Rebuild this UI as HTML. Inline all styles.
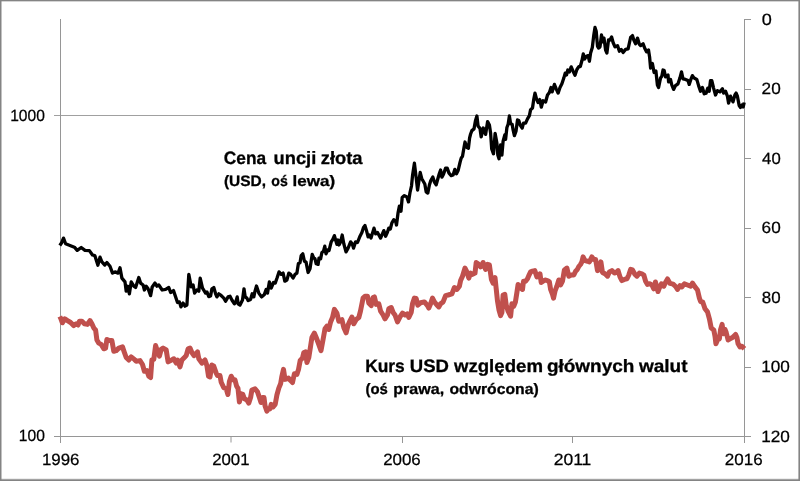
<!DOCTYPE html>
<html><head><meta charset="utf-8"><title>Chart</title>
<style>
html,body{margin:0;padding:0;background:#fff;}
body{width:800px;height:481px;overflow:hidden;position:relative;font-family:"Liberation Sans",sans-serif;}
</style></head><body>
<svg width="800" height="481" viewBox="0 0 800 481" style="position:absolute;left:0;top:0;display:block">
<rect x="0" y="0" width="800" height="481" fill="#ffffff"/>
<g shape-rendering="crispEdges" stroke="#969696" stroke-width="1" fill="none">
<path d="M54,115.5 H744" stroke="#a0a0a0"/>
<path d="M60.5,19 V442.5"/>
<path d="M54,436.5 H750.5"/>
<path d="M744.5,19 V442.5"/>
<path d="M744,19.5 H750.5"/>
<path d="M744,89.5 H750.5"/>
<path d="M744,158.5 H750.5"/>
<path d="M744,228.5 H750.5"/>
<path d="M744,297.5 H750.5"/>
<path d="M744,367.5 H750.5"/>
<path d="M744,436.5 H750.5"/>
<path d="M402.5,436 V442.5"/>
<path d="M572.5,436 V442.5"/>
</g>
<path d="M231,437 V442.5" stroke="#969696" stroke-width="1" fill="none"/>
<path d="M59.8,316.5 L60.8,318.5 L62.3,322.8 L64.8,318.8 L67.5,320.6 L70.6,322.5 L73.8,325.6 L76.2,323.8 L78.1,325.0 L79.4,321.2 L81.9,321.2 L84.4,323.8 L87.5,324.4 L90.0,320.6 L91.9,323.8 L93.8,328.1 L95.6,330.0 L96.9,340.0 L98.8,343.1 L101.2,344.4 L103.8,348.8 L105.6,348.1 L106.9,339.4 L109.4,340.6 L111.9,340.6 L113.8,351.2 L116.2,350.6 L118.8,348.1 L122.5,346.9 L124.4,352.5 L126.2,357.5 L128.8,360.0 L131.2,356.9 L134.4,359.4 L136.2,361.2 L140.0,360.6 L142.5,364.5 L144.4,371.2 L146.9,370.6 L148.8,376.2 L150.6,377.5 L151.9,360.0 L153.8,359.4 L155.6,345.6 L157.5,351.2 L159.4,356.2 L161.2,349.4 L163.1,348.1 L166.2,350.0 L168.1,361.9 L170.6,360.6 L173.8,358.8 L176.2,363.1 L177.5,360.0 L180.0,366.9 L181.9,360.0 L184.4,357.5 L186.2,355.6 L188.1,348.8 L190.0,348.1 L191.9,352.5 L194.0,355.6 L197.5,351.9 L198.8,358.8 L201.9,363.1 L205.0,360.0 L206.9,365.6 L208.5,376.2 L210.0,376.9 L211.9,365.0 L213.8,366.2 L216.2,373.1 L217.5,375.6 L220.0,375.6 L221.2,382.2 L223.8,387.8 L226.2,388.8 L227.9,394.5 L229.4,381.5 L231.2,376.2 L233.1,379.7 L234.9,379.7 L236.6,386.2 L238.0,388.4 L239.4,401.9 L241.2,393.8 L242.8,394.4 L244.4,398.8 L246.9,400.0 L248.8,403.1 L250.6,397.5 L251.9,390.0 L255.0,388.8 L257.5,391.9 L259.4,397.5 L261.0,402.5 L262.5,397.5 L264.0,397.5 L265.0,405.6 L266.9,411.2 L268.1,409.4 L270.0,408.8 L271.2,404.4 L273.1,406.9 L275.2,404.4 L276.9,395.0 L278.8,388.1 L280.6,383.8 L281.9,376.2 L283.5,369.4 L285.0,379.4 L286.9,378.8 L288.5,378.1 L290.6,380.6 L292.5,382.5 L294.4,373.8 L296.9,374.4 L298.5,369.5 L300.2,360.5 L302.5,358.1 L303.8,352.5 L305.6,351.9 L306.9,362.5 L308.8,357.5 L310.6,346.2 L311.9,337.5 L314.4,333.1 L316.2,337.5 L318.1,342.5 L321.0,350.6 L323.1,339.4 L325.0,328.8 L326.9,326.2 L328.8,329.5 L330.6,322.0 L332.5,317.5 L334.4,309.4 L336.9,313.1 L338.8,321.2 L341.9,319.6 L343.8,327.5 L346.1,332.8 L348.1,325.0 L350.0,320.8 L351.9,317.0 L353.8,323.8 L356.2,319.5 L358.8,317.5 L360.5,311.0 L361.9,304.0 L363.1,298.1 L365.0,296.2 L367.5,296.2 L368.8,303.1 L371.2,305.6 L373.1,297.5 L374.4,296.9 L376.2,304.4 L378.8,303.8 L380.6,311.2 L383.1,315.0 L385.0,318.8 L387.5,315.0 L388.8,308.8 L391.2,307.5 L393.1,312.5 L395.0,315.0 L397.5,321.9 L400.0,316.9 L402.5,313.1 L405.0,315.0 L407.5,313.8 L408.8,317.5 L411.2,312.5 L412.5,303.8 L414.4,298.1 L416.2,298.5 L417.8,305.2 L420.6,302.8 L424.4,301.9 L427.5,305.6 L428.8,308.1 L430.6,303.8 L432.5,298.1 L434.4,301.9 L436.9,305.0 L438.8,306.9 L440.6,303.8 L443.1,301.9 L445.6,295.6 L448.1,295.0 L451.9,293.8 L454.4,287.5 L456.9,289.4 L459.4,286.2 L460.6,280.6 L462.5,276.2 L465.0,268.1 L466.9,271.9 L468.8,278.1 L470.6,273.1 L472.5,274.4 L475.0,273.1 L476.2,262.5 L478.1,263.8 L480.6,266.9 L483.1,262.5 L485.6,269.4 L487.5,264.4 L489.4,265.0 L491.4,279.5 L493.1,283.1 L495.0,277.5 L496.2,288.8 L497.5,301.2 L499.0,310.0 L500.6,315.6 L501.9,312.5 L503.1,295.0 L504.8,294.4 L506.2,305.0 L508.1,311.2 L510.6,316.2 L511.9,303.8 L513.8,306.2 L515.4,302.0 L516.9,292.5 L518.1,284.4 L520.0,287.5 L522.5,289.4 L523.5,281.2 L525.6,281.2 L527.5,278.8 L528.8,275.6 L530.6,271.9 L532.5,271.2 L534.8,270.6 L536.9,276.9 L538.8,275.6 L540.0,273.8 L541.2,282.5 L543.1,281.2 L545.0,280.0 L547.5,280.6 L549.4,281.9 L550.6,289.4 L552.5,294.4 L553.5,298.1 L555.0,291.2 L556.9,286.2 L558.8,280.0 L560.6,285.0 L562.5,281.2 L564.4,270.0 L566.9,268.1 L568.8,276.2 L571.2,275.0 L573.8,275.0 L575.6,271.2 L577.3,269.5 L578.8,266.5 L580.5,264.5 L581.9,261.9 L583.1,256.9 L585.0,260.6 L587.5,261.2 L589.4,261.9 L591.9,256.9 L593.8,259.4 L595.6,259.4 L597.5,270.6 L599.4,269.4 L600.9,261.9 L602.5,272.5 L605.0,273.8 L607.5,276.2 L609.4,271.9 L611.9,270.6 L614.4,273.1 L616.2,272.5 L618.1,270.6 L620.0,276.9 L621.9,280.6 L624.4,279.4 L626.9,278.8 L628.8,275.0 L630.6,269.4 L632.5,270.0 L635.0,274.4 L636.9,276.2 L639.4,273.1 L641.9,273.8 L643.8,275.0 L645.6,281.2 L647.5,284.4 L650.0,283.8 L651.9,285.0 L653.8,288.8 L655.4,282.0 L656.7,287.0 L658.0,291.5 L659.7,287.0 L661.4,283.8 L663.8,286.2 L665.6,282.2 L667.5,279.0 L670.0,283.4 L673.1,284.2 L675.6,286.5 L677.5,289.4 L680.0,285.6 L681.9,286.9 L684.4,283.8 L687.5,285.0 L690.6,286.2 L692.5,283.1 L695.0,286.9 L697.5,290.0 L699.4,298.1 L700.6,301.5 L702.8,302.2 L705.0,308.8 L707.5,311.9 L709.4,318.8 L711.2,328.1 L713.8,330.0 L715.0,336.2 L715.9,343.8 L717.5,340.0 L719.4,338.8 L720.6,329.4 L722.1,324.4 L723.5,333.8 L725.0,329.4 L726.2,332.5 L728.1,340.0 L730.0,338.8 L732.5,337.5 L735.6,334.4 L736.9,337.5 L738.1,343.8 L740.0,346.9 L741.9,346.2 L744.4,348.8" fill="none" stroke="#c0504d" stroke-width="5" stroke-linejoin="round" stroke-linecap="butt"/>
<path d="M59.8,245.5 L61.5,243.0 L63.5,238.1 L65.6,243.8 L71.2,246.0 L74.4,247.2 L77.2,250.4 L81.2,247.5 L85.0,250.4 L89.4,250.6 L92.5,255.0 L94.8,255.6 L97.9,265.2 L100.0,257.2 L101.9,261.9 L104.8,265.0 L106.9,262.5 L110.0,266.2 L112.5,273.1 L115.0,271.9 L118.1,273.1 L120.0,267.8 L121.9,278.1 L125.0,281.9 L126.2,291.2 L127.8,286.2 L129.4,293.8 L131.2,281.9 L133.8,286.2 L135.6,287.5 L138.8,277.5 L140.6,283.1 L143.1,285.0 L144.4,290.0 L146.2,286.2 L148.1,288.8 L150.6,295.6 L152.2,286.9 L155.0,283.1 L156.9,286.2 L158.8,285.0 L162.2,290.0 L165.6,289.4 L168.8,287.5 L170.6,292.5 L173.5,290.6 L177.5,302.5 L179.4,301.9 L180.9,306.9 L183.1,303.1 L185.0,306.2 L186.9,305.0 L188.8,274.4 L191.2,286.9 L193.1,285.0 L194.6,293.1 L196.9,290.0 L198.8,291.2 L200.2,278.1 L202.5,288.1 L205.6,293.1 L206.9,291.9 L208.8,296.6 L210.6,296.0 L211.9,288.8 L213.8,287.5 L215.6,293.8 L216.9,296.9 L218.8,293.8 L220.6,295.0 L223.8,298.1 L225.6,301.2 L228.1,296.9 L230.0,296.2 L231.9,300.0 L234.4,303.8 L236.0,301.2 L237.2,296.9 L238.1,303.8 L240.0,305.0 L242.5,300.0 L244.0,288.8 L245.2,296.9 L246.9,298.1 L248.1,300.6 L250.6,299.4 L252.2,293.8 L253.8,296.9 L255.0,291.2 L256.5,286.0 L258.8,293.1 L261.5,296.9 L264.4,294.4 L266.2,289.4 L267.5,293.1 L269.4,281.9 L271.2,288.1 L273.5,282.5 L275.2,283.1 L277.2,277.5 L279.0,271.9 L281.2,274.4 L283.1,273.1 L284.8,281.2 L286.9,280.0 L288.8,273.1 L290.6,274.4 L293.1,278.1 L295.0,274.4 L296.9,273.1 L298.4,263.5 L300.0,262.8 L301.2,255.6 L302.8,253.8 L304.4,261.2 L306.0,261.9 L308.1,272.5 L310.0,268.8 L312.2,254.4 L313.8,258.1 L315.0,258.8 L316.2,263.8 L318.1,264.4 L319.0,258.1 L320.6,258.8 L321.9,252.5 L323.5,251.2 L324.8,246.2 L326.0,253.8 L327.8,250.0 L329.0,250.6 L331.2,241.9 L332.8,239.4 L334.4,235.6 L335.6,240.0 L336.9,244.4 L338.1,240.0 L339.0,245.0 L340.6,241.9 L342.2,235.0 L343.8,243.8 L346.0,251.9 L348.1,248.1 L350.6,241.9 L352.2,243.8 L353.5,248.1 L355.6,241.9 L357.5,242.5 L360.0,236.2 L361.9,232.5 L363.5,227.5 L365.0,225.6 L366.5,230.6 L368.1,236.9 L369.4,235.0 L371.0,238.1 L372.5,233.1 L374.0,228.1 L375.6,233.8 L377.5,232.5 L380.6,238.1 L383.8,230.6 L385.6,236.2 L387.5,232.0 L388.8,228.1 L390.3,229.0 L391.9,222.8 L393.8,219.7 L395.6,221.2 L396.5,225.0 L398.1,212.5 L399.4,206.2 L401.0,211.2 L402.2,197.5 L404.4,195.6 L406.9,196.9 L408.5,201.9 L410.0,192.5 L411.5,186.0 L412.6,175.0 L414.4,163.2 L416.2,178.0 L417.6,190.0 L418.9,181.0 L420.2,172.5 L421.7,178.5 L423.1,181.0 L424.8,184.0 L426.2,191.9 L427.8,193.1 L429.4,185.0 L430.8,180.5 L432.8,177.0 L434.4,182.0 L436.2,184.8 L437.5,180.0 L439.2,174.0 L440.6,170.0 L441.9,177.2 L443.5,174.2 L445.6,168.1 L447.2,168.1 L449.0,173.1 L451.2,175.6 L453.1,175.0 L454.8,169.4 L456.5,173.8 L458.1,170.6 L460.0,162.5 L461.2,158.1 L462.5,156.2 L464.0,147.5 L465.0,142.0 L466.9,147.5 L468.4,148.2 L469.6,138.0 L470.6,134.0 L471.9,130.6 L474.0,128.9 L475.4,121.0 L476.9,116.0 L478.1,126.2 L480.0,128.4 L481.2,136.9 L483.3,128.0 L485.6,134.4 L487.6,121.6 L489.4,125.0 L490.6,133.0 L491.7,149.0 L493.5,153.8 L495.1,133.4 L496.9,143.0 L497.8,155.0 L499.0,158.8 L500.6,145.0 L501.9,155.0 L503.1,141.2 L504.8,135.0 L505.6,139.4 L506.9,127.5 L508.1,124.4 L509.4,116.0 L510.6,123.8 L512.2,124.4 L513.1,130.0 L514.4,135.6 L516.0,131.2 L517.5,120.0 L518.8,120.6 L520.2,125.0 L522.2,128.1 L523.5,123.1 L525.6,123.1 L527.5,118.8 L529.4,115.6 L530.6,109.7 L532.5,108.0 L533.8,99.0 L535.0,93.1 L536.5,98.8 L538.1,102.5 L539.8,99.6 L541.3,107.2 L543.1,100.8 L545.6,102.0 L547.5,95.0 L549.4,92.5 L551.0,87.5 L552.2,91.9 L554.4,84.4 L556.2,88.8 L558.1,93.1 L560.0,87.5 L561.9,83.8 L563.8,78.1 L565.2,73.1 L566.5,75.0 L567.8,70.0 L569.4,71.9 L571.2,66.9 L573.1,71.2 L575.0,75.2 L576.9,69.5 L578.8,66.6 L580.3,66.5 L581.9,60.8 L583.3,53.8 L584.6,59.0 L586.4,56.2 L588.1,55.6 L589.4,61.2 L590.6,53.0 L592.3,47.5 L593.8,35.0 L595.0,27.5 L596.2,31.2 L597.5,46.2 L598.5,48.1 L600.0,46.9 L601.5,35.0 L602.8,41.9 L604.0,38.1 L605.6,50.0 L606.9,53.1 L608.5,40.0 L610.0,40.0 L611.6,36.9 L613.1,42.5 L615.0,46.9 L617.5,45.6 L619.4,51.2 L621.2,49.4 L623.1,52.5 L625.6,49.4 L628.1,48.8 L630.6,37.5 L632.5,35.6 L633.8,40.0 L635.6,43.8 L637.5,38.1 L639.4,44.4 L640.6,45.6 L643.1,43.8 L645.0,48.8 L646.5,51.9 L648.5,50.0 L649.6,57.0 L650.6,68.0 L652.4,63.5 L654.1,72.5 L655.9,71.0 L657.4,85.0 L658.6,87.5 L660.5,78.1 L661.8,76.2 L663.0,70.0 L664.2,70.6 L665.5,76.9 L668.0,75.0 L668.6,81.9 L670.5,79.4 L671.8,85.0 L673.6,89.4 L675.5,85.6 L678.0,83.8 L679.9,78.1 L681.5,71.9 L683.0,78.8 L685.5,79.4 L688.0,80.6 L689.2,84.4 L691.1,78.8 L692.4,75.6 L694.2,78.1 L696.8,79.4 L698.6,85.6 L700.5,91.2 L702.4,87.5 L704.2,93.8 L706.1,93.1 L707.8,88.1 L709.2,91.2 L710.5,80.6 L711.8,80.6 L713.6,88.1 L715.5,95.0 L717.4,90.6 L719.9,91.9 L722.4,88.8 L723.6,93.1 L725.5,91.2 L727.4,96.2 L728.6,103.1 L730.5,96.2 L733.0,101.9 L734.9,95.0 L736.1,93.1 L737.4,96.2 L739.2,105.6 L740.5,107.5 L742.0,105.0 L743.2,106.9 L744.2,102.5" fill="none" stroke="#000000" stroke-width="3.3" stroke-linejoin="round" stroke-linecap="butt"/>
<g style="filter:grayscale(1)" fill="#000" text-rendering="geometricPrecision">
<text x="10.19" y="121.0" font-family="Liberation Sans, sans-serif" font-size="16.3" stroke="#000" stroke-width="0.25" textLength="34.65" lengthAdjust="spacingAndGlyphs">1000</text>
<text x="18.82" y="441.3" font-family="Liberation Sans, sans-serif" font-size="16.3" stroke="#000" stroke-width="0.25" textLength="26.03" lengthAdjust="spacingAndGlyphs">100</text>
<text x="41.92" y="465.4" font-family="Liberation Sans, sans-serif" font-size="16.3" stroke="#000" stroke-width="0.25" textLength="37.62" lengthAdjust="spacingAndGlyphs">1996</text>
<text x="212.18" y="465.4" font-family="Liberation Sans, sans-serif" font-size="16.3" stroke="#000" stroke-width="0.25" textLength="37.36" lengthAdjust="spacingAndGlyphs">2001</text>
<text x="383.15" y="465.4" font-family="Liberation Sans, sans-serif" font-size="16.3" stroke="#000" stroke-width="0.25" textLength="37.63" lengthAdjust="spacingAndGlyphs">2006</text>
<text x="553.70" y="465.4" font-family="Liberation Sans, sans-serif" font-size="16.3" stroke="#000" stroke-width="0.25" textLength="37.67" lengthAdjust="spacingAndGlyphs">2011</text>
<text x="724.87" y="465.4" font-family="Liberation Sans, sans-serif" font-size="16.3" stroke="#000" stroke-width="0.25" textLength="37.81" lengthAdjust="spacingAndGlyphs">2016</text>
<text x="761.77" y="24.8" font-family="Liberation Sans, sans-serif" font-size="16.3" stroke="#000" stroke-width="0.25" textLength="10.06" lengthAdjust="spacingAndGlyphs">0</text>
<text x="761.60" y="94.4" font-family="Liberation Sans, sans-serif" font-size="16.3" stroke="#000" stroke-width="0.25" textLength="19.12" lengthAdjust="spacingAndGlyphs">20</text>
<text x="762.10" y="163.8" font-family="Liberation Sans, sans-serif" font-size="16.3" stroke="#000" stroke-width="0.25" textLength="18.60" lengthAdjust="spacingAndGlyphs">40</text>
<text x="761.62" y="233.3" font-family="Liberation Sans, sans-serif" font-size="16.3" stroke="#000" stroke-width="0.25" textLength="19.09" lengthAdjust="spacingAndGlyphs">60</text>
<text x="761.75" y="302.8" font-family="Liberation Sans, sans-serif" font-size="16.3" stroke="#000" stroke-width="0.25" textLength="18.84" lengthAdjust="spacingAndGlyphs">80</text>
<text x="761.22" y="372.3" font-family="Liberation Sans, sans-serif" font-size="16.3" stroke="#000" stroke-width="0.25" textLength="28.65" lengthAdjust="spacingAndGlyphs">100</text>
<text x="761.22" y="441.8" font-family="Liberation Sans, sans-serif" font-size="16.3" stroke="#000" stroke-width="0.25" textLength="28.65" lengthAdjust="spacingAndGlyphs">120</text>
<text x="223.84" y="163.8" font-family="Liberation Sans, sans-serif" font-size="17.9" font-weight="bold" stroke="#000" stroke-width="0.3" textLength="42.29" lengthAdjust="spacingAndGlyphs">Cena</text>
<text x="273.56" y="163.8" font-family="Liberation Sans, sans-serif" font-size="17.9" font-weight="bold" stroke="#000" stroke-width="0.3" textLength="42.70" lengthAdjust="spacingAndGlyphs">uncji</text>
<text x="320.76" y="163.8" font-family="Liberation Sans, sans-serif" font-size="17.9" font-weight="bold" stroke="#000" stroke-width="0.3" textLength="41.81" lengthAdjust="spacingAndGlyphs">złota</text>
<text x="223.95" y="185.8" font-family="Liberation Sans, sans-serif" font-size="15.1" font-weight="bold" stroke="#000" stroke-width="0.3" textLength="42.11" lengthAdjust="spacingAndGlyphs">(USD,</text>
<text x="271.29" y="185.8" font-family="Liberation Sans, sans-serif" font-size="15.1" font-weight="bold" stroke="#000" stroke-width="0.3" textLength="16.48" lengthAdjust="spacingAndGlyphs">oś</text>
<text x="292.50" y="185.8" font-family="Liberation Sans, sans-serif" font-size="15.1" font-weight="bold" stroke="#000" stroke-width="0.3" textLength="42.58" lengthAdjust="spacingAndGlyphs">lewa)</text>
<text x="365.13" y="371.9" font-family="Liberation Sans, sans-serif" font-size="17.9" font-weight="bold" stroke="#000" stroke-width="0.3" textLength="39.66" lengthAdjust="spacingAndGlyphs">Kurs</text>
<text x="409.76" y="371.9" font-family="Liberation Sans, sans-serif" font-size="17.9" font-weight="bold" stroke="#000" stroke-width="0.3" textLength="39.13" lengthAdjust="spacingAndGlyphs">USD</text>
<text x="453.93" y="371.9" font-family="Liberation Sans, sans-serif" font-size="17.9" font-weight="bold" stroke="#000" stroke-width="0.3" textLength="89.03" lengthAdjust="spacingAndGlyphs">względem</text>
<text x="546.94" y="371.9" font-family="Liberation Sans, sans-serif" font-size="17.9" font-weight="bold" stroke="#000" stroke-width="0.3" textLength="87.42" lengthAdjust="spacingAndGlyphs">głównych</text>
<text x="638.93" y="371.9" font-family="Liberation Sans, sans-serif" font-size="17.9" font-weight="bold" stroke="#000" stroke-width="0.3" textLength="48.65" lengthAdjust="spacingAndGlyphs">walut</text>
<text x="365.54" y="394.4" font-family="Liberation Sans, sans-serif" font-size="15.1" font-weight="bold" stroke="#000" stroke-width="0.3" textLength="22.38" lengthAdjust="spacingAndGlyphs">(oś</text>
<text x="393.25" y="394.4" font-family="Liberation Sans, sans-serif" font-size="15.1" font-weight="bold" stroke="#000" stroke-width="0.3" textLength="50.91" lengthAdjust="spacingAndGlyphs">prawa,</text>
<text x="449.47" y="394.4" font-family="Liberation Sans, sans-serif" font-size="15.1" font-weight="bold" stroke="#000" stroke-width="0.3" textLength="89.16" lengthAdjust="spacingAndGlyphs">odwrócona)</text>
</g>
<g shape-rendering="crispEdges" fill="#848484">
<rect x="0" y="0" width="800" height="1"/><rect x="0" y="1" width="800" height="1" opacity="0.35"/>
<rect x="0" y="0" width="1" height="481"/><rect x="1" y="0" width="1" height="481" opacity="0.5"/>
<rect x="799" y="0" width="1" height="481"/><rect x="798" y="0" width="1" height="481" opacity="0.6"/>
<rect x="0" y="480" width="800" height="1"/><rect x="0" y="479" width="800" height="1" opacity="0.75"/><rect x="0" y="478" width="800" height="1" opacity="0.15"/>
</g>
</svg>
</body></html>
